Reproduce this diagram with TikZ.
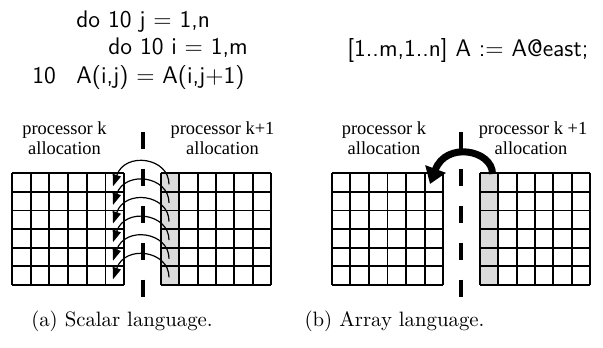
\documentclass[tikz,border=0pt]{standalone}
\usepackage{fontspec}
\newfontfamily\timesf{Liberation Serif}
\usetikzlibrary{arrows.meta}
\tikzset{
  codetext/.style={inner sep=0pt, anchor=base west, font=\sffamily\fontsize{12}{14}\selectfont},
  lbl/.style={inner sep=0pt, anchor=base, font=\timesf\fontsize{9.2}{10}\selectfont},
  captext/.style={inner sep=0pt, anchor=base, font=\fontsize{10.4}{12}\selectfont},
  gridline/.style={line width=0.95pt, black},
  shade/.style={fill=black!14, draw=none},
  divider/.style={line width=2pt, dash pattern=on 8.5pt off 10pt},
  smallarc/.style={line width=0.6pt, -{Triangle[length=5.9pt, width=4.2pt]}},
  bigarc/.style={line width=3.5pt, -{Triangle[length=8pt, width=10.5pt]}},
}
\newcommand{\cellgrid}[4]{%
  \foreach \i in {0,...,6}{
    \draw[gridline] ({#1+(#2-#1)*\i/6},#3) -- ({#1+(#2-#1)*\i/6},#4);
    \draw[gridline] (#1,{#3+(#4-#3)*\i/6}) -- (#2,{#3+(#4-#3)*\i/6});
  }%
}
\begin{document}
\begin{tikzpicture}[x=0.5pt, y=-0.5pt]
\useasboundingbox (0,0) rectangle (603,347);

% code
\node[codetext] (c1) at (76,27.7) {do 10 j = 1,n};
\node[codetext] (c2) at (108,55) {do 10 i = 1,m};
\node[codetext] (c3l) at (32,83.3) {10};
\node[codetext] (c3) at (76,83.3) {A(i,j) = A(i,j+1)};
\node[codetext] (cb) at (347,56.7) {[1..m,1..n] A := A@east;};

% labels (a)
\node[lbl] (la1) at (64.5,134.3) {processor k};
\node[lbl] (la2) at (64.5,154.3) {allocation};
\node[lbl] (ra1) at (222.5,134.3) {processor k+1};
\node[lbl] (ra2) at (222.5,154.3) {allocation};
% labels (b)
\node[lbl] (lb1) at (384,134.3) {processor k};
\node[lbl] (lb2) at (384,154.3) {allocation};
\node[lbl] (rb1) at (533,134.3) {processor k +1};
\node[lbl] (rb2) at (531,154.3) {allocation};

% shaded columns
\fill[shade] (161,173.3) rectangle (179.3,285);
\fill[shade] (480,173.3) rectangle (498.3,285);

% grids
\cellgrid{12}{124.2}{173.3}{285}
\cellgrid{161}{271}{173.3}{285}
\cellgrid{331.7}{443.3}{173.3}{285}
\cellgrid{480}{590}{173.3}{285}

% dividers
\coordinate (da1) at (143.3,131.7);
\coordinate (da2) at (143.3,296.7);
\coordinate (db1) at (461,131.7);
\coordinate (db2) at (461,296.7);
\draw[divider] (da1) -- (da2);
\draw[divider] (db1) -- (db2);

% arcs (a)
\foreach \k in {0,...,5}{
  \pgfmathsetmacro{\yy}{173.3+18.6*\k}
  \coordinate (s\k) at (169,\yy+11);
  \coordinate (t\k) at (113,\yy+13);
  \draw[smallarc] (s\k) .. controls (169,\yy-16) and (125,\yy-22) .. (t\k);
}

% big arrow (b)
\coordinate (bs) at (492.5,174);
\coordinate (bt) at (430,184);
\draw[bigarc] (bs) .. controls (492.5,150) and (446,141) .. (bt);

% captions
\node[captext] (capa) at (122,326.7) {(a) Scalar language.};
\node[captext] (capb) at (394.5,326.7) {(b) Array language.};
\end{tikzpicture}
\end{document}
